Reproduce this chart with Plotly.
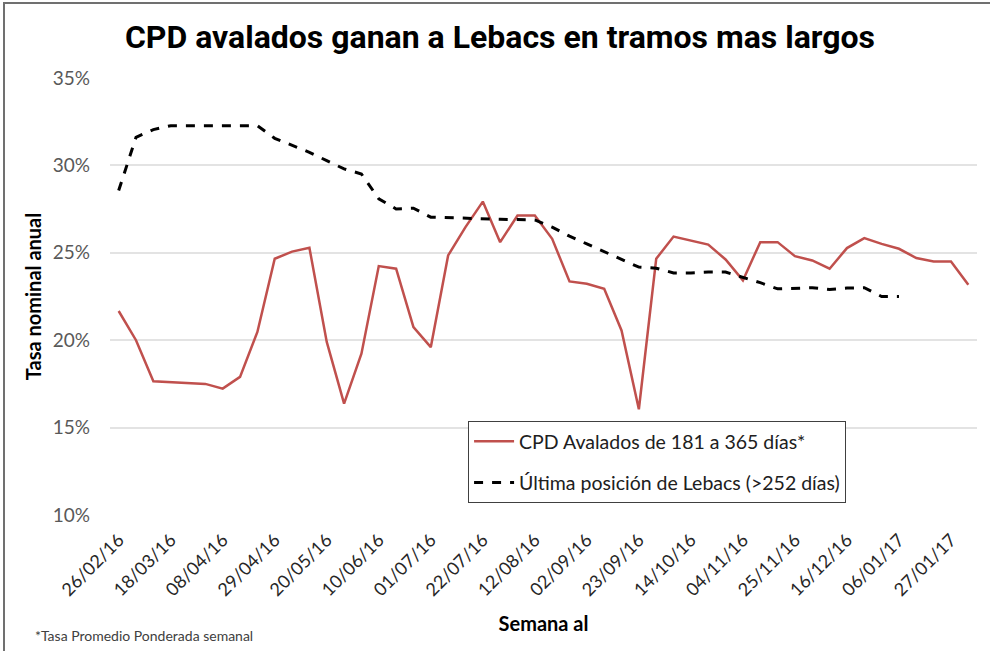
import plotly.graph_objects as go
import pandas as pd

weeks = [d.strftime("%d/%m/%y") for d in pd.date_range("2016-02-26", periods=50, freq="7D")]

cpd_avalados = [21.67, 20.0, 17.65, 17.6, 17.55, 17.5, 17.23, 17.9, 20.47, 24.66,
                25.07, 25.29, 19.9, 16.37, 19.23, 24.24, 24.09, 20.75, 19.6, 24.85,
                26.47, 27.93, 25.61, 27.13, 27.13, 25.8, 23.36, 23.23, 22.94, 20.56,
                16.05, 24.66, 25.93, 25.7, 25.47, 24.62, 23.42, 25.61, 25.61, 24.81,
                24.56, 24.09, 25.27, 25.84, 25.51, 25.23, 24.7, 24.5, 24.5, 23.17]

lebacs = [28.56, 31.61, 32.05, 32.27, 32.27, 32.27, 32.27, 32.27, 32.27, 31.55,
          31.17, 30.75, 30.27, 29.8, 29.51, 28.09, 27.51, 27.55, 27.04, 27.0,
          26.97, 26.94, 26.92, 26.9, 26.88, 26.47, 25.95, 25.51, 25.07, 24.62,
          24.18, 24.12, 23.85, 23.85, 23.9, 23.9, 23.6, 23.29, 22.94, 22.98,
          23.0, 22.9, 22.98, 23.0, 22.5, 22.5]

y_ticks = [10, 15, 20, 25, 30, 35]
y_ticktext = ["10%", "15%", "20%", "25%", "30%", "35%"]
x_tickvals = weeks[::3]

fig = go.Figure()
fig.add_trace(go.Scatter(
    x=weeks, y=cpd_avalados, mode="lines",
    name="CPD Avalados de 181 a 365 días*", legendgroup="a",
    line=dict(color="#C0504D", width=2.5),
))
fig.add_trace(go.Scatter(
    x=weeks[:len(lebacs)], y=lebacs, mode="lines",
    name="Última posición de Lebacs (>252 días)", legendgroup="b",
    line=dict(color="#000000", width=3, dash="dash"),
))

fig.update_layout(
    width=990, height=651,
    paper_bgcolor="white", plot_bgcolor="white",
    margin=dict(l=110, r=13, t=78, b=136),
    title=dict(text="<b>CPD avalados ganan a Lebacs en tramos mas largos</b>",
               x=0.505, xanchor="center", y=0.943, yanchor="middle",
               font=dict(family="Roboto, sans-serif", size=32, color="#000000")),
    font=dict(family="Lato, Open Sans, sans-serif", color="#404040"),
    showlegend=True,
    legend=dict(x=0.413, y=0.215, xanchor="left", yanchor="top",
                bordercolor="#404040", borderwidth=1, bgcolor="white",
                font=dict(size=19.5, color="#202020"),
                traceorder="grouped", tracegroupgap=13, itemwidth=40),
    xaxis=dict(type="category", range=[-0.5, 49.5],
               tickmode="array", tickvals=x_tickvals, ticktext=x_tickvals,
               tickangle=-45, showgrid=False, showline=False, ticks="",
               ticklabelstandoff=10,
               tickfont=dict(size=18, color="#262626", family="Lato, sans-serif"),
               title=dict(text="<b>Semana al</b>", standoff=18,
                          font=dict(size=20, color="#000000"))),
    yaxis=dict(range=[10, 35], tickmode="array", tickvals=y_ticks, ticktext=y_ticktext,
               showgrid=True, gridcolor="#E3E3E3", gridwidth=1.5, zeroline=False,
               showline=False, ticks="", ticklabelstandoff=19,
               tickfont=dict(size=19, color="#595959"),
               title=dict(text="<b>Tasa nominal anual</b>", standoff=5,
                          font=dict(size=20, color="#000000"))),
    annotations=[dict(text="*Tasa Promedio Ponderada semanal", xref="paper", yref="paper",
                      x=(33 - 110) / 867, y=(515 - 635) / 437, xanchor="left", yanchor="middle",
                      showarrow=False, font=dict(size=14, color="#404040"))],
    shapes=[dict(type="rect", xref="paper", yref="paper",
                 x0=(4 - 110) / 867, x1=1.2, y0=-0.6, y1=(515 - 3) / 437,
                 line=dict(color="#707070", width=2), fillcolor="rgba(0,0,0,0)", layer="below")],
)

fig.write_html("out.html", config={"displayModeBar": False},
               post_script="document.body.style.margin='0';")
